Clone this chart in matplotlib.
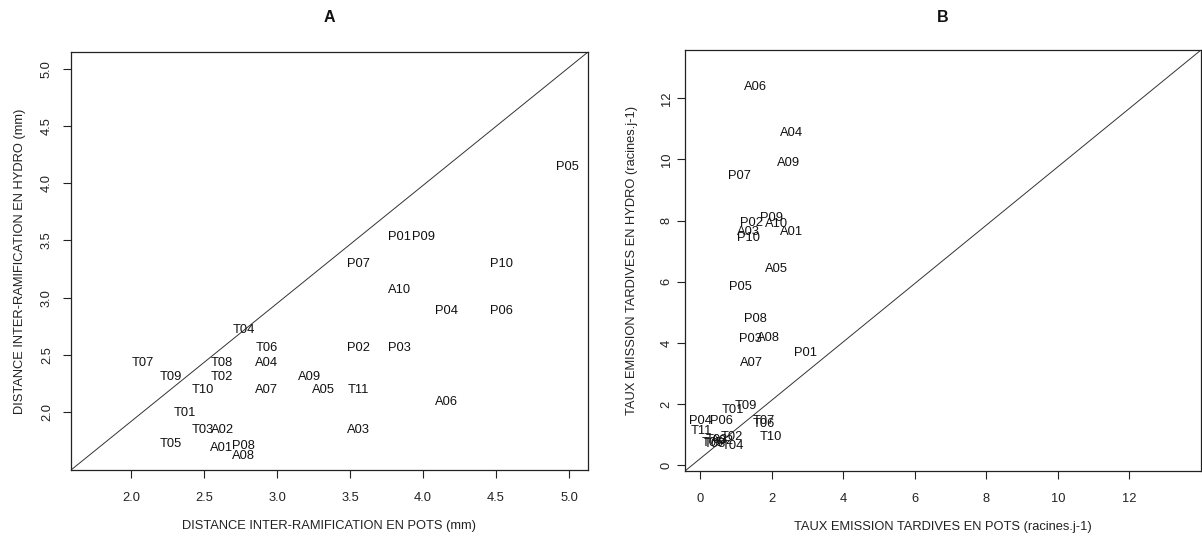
"""Scatter of genotype labels: hydro vs pots (two panels, R-style)."""

import matplotlib

matplotlib.use("Agg")

import matplotlib.pyplot as plt
import numpy as np

# Panel A: inter-branch distance (mm)
labels_a = ["T01", "T02", "T03", "T04", "T05", "T06", "T07", "T08", "T09", "T10", "T11",
            "A01", "A02", "A03", "A04", "A05", "A06", "A07", "A08", "A09", "A10",
            "P01", "P02", "P03", "P04", "P05", "P06", "P07", "P08", "P09", "P10"]
pots_a = [2.37, 2.62, 2.49, 2.77, 2.27, 2.93, 2.08, 2.62, 2.27, 2.49, 3.56,
          2.62, 2.63, 3.56, 2.93, 3.32, 4.16, 2.93, 2.77, 3.22, 3.84,
          3.84, 3.56, 3.84, 4.16, 4.99, 4.54, 3.56, 2.77, 4.00, 4.54]
hydro_a = [1.99, 2.31, 1.84, 2.72, 1.72, 2.56, 2.43, 2.43, 2.31, 2.19, 2.19,
           1.69, 1.84, 1.84, 2.43, 2.19, 2.09, 2.19, 1.62, 2.31, 3.07,
           3.53, 2.56, 2.56, 2.88, 4.14, 2.88, 3.29, 1.70, 3.53, 3.29]

# Panel B: late emission rate (roots per day)
labels_b = ["T01", "T02", "T03", "T04", "T05", "T06", "T07", "T08", "T09", "T10", "T11",
            "A01", "A02", "A03", "A04", "A05", "A06", "A07", "A08", "A09", "A10",
            "P01", "P02", "P03", "P04", "P05", "P06", "P07", "P08", "P09", "P10"]
pots_b = [0.93, 0.88, 0.47, 0.93, 0.37, 1.79, 1.77, 0.40, 1.28, 1.97, 0.05,
          2.56, 0.62, 1.35, 2.56, 2.14, 1.56, 1.44, 1.91, 2.47, 2.14,
          2.96, 1.44, 1.42, 0.00, 1.12, 0.61, 1.09, 1.56, 2.00, 1.35]
hydro_b = [1.81, 0.92, 0.83, 0.64, 0.72, 1.34, 1.45, 0.68, 1.92, 0.92, 1.13,
           7.62, 0.80, 7.62, 10.86, 6.42, 12.38, 3.34, 4.17, 9.90, 7.89,
           3.68, 7.93, 4.13, 1.46, 5.82, 1.43, 9.46, 4.77, 8.08, 7.44]

FONT = ["Liberation Sans", "DejaVu Sans"]
FS = 9.3


def r_panel(ax, x, y, labels, xlim, ylim, ticks, xlabel, ylabel, ypad, ylabpad):
    for xi, yi, lab in zip(x, y, labels):
        ax.text(xi, yi, lab, ha="center", va="center", fontsize=FS, color="#111111")
    ax.plot([0, 1], [0, 1], transform=ax.transAxes, color="#333333", linewidth=0.7)
    ax.set_xlim(*xlim)
    ax.set_ylim(*ylim)
    ax.set_xticks(ticks[0])
    ax.set_yticks(ticks[1])
    ax.set_xticklabels(ticks[2])
    ax.set_yticklabels(ticks[3], rotation=90, va="center")
    ax.tick_params(direction="out", length=5.5, width=0.8, labelsize=FS, colors="#222222")
    ax.tick_params(axis="x", pad=10)
    ax.tick_params(axis="y", pad=ypad)
    for sp in ax.spines.values():
        sp.set_linewidth(0.9)
        sp.set_color("#222222")
    ax.set_xlabel(xlabel, fontsize=FS, labelpad=12, color="#222222")
    ax.set_ylabel(ylabel, fontsize=FS, labelpad=ylabpad, color="#222222")


def main():
    plt.rcParams["font.family"] = FONT
    fig = plt.figure(figsize=(12.02, 5.38), dpi=100)
    ax_a = fig.add_axes([71 / 1202, 68 / 538, 517 / 1202, 418 / 538])
    ax_b = fig.add_axes([685 / 1202, 67 / 538, 516 / 1202, 421 / 538])

    ta = np.arange(2.0, 5.01, 0.5)
    r_panel(ax_a, pots_a, hydro_a, labels_a, (1.589, 5.13), (1.494, 5.145),
            (ta, ta, [f"{v:.1f}" for v in ta], [f"{v:.1f}" for v in ta]),
            "DISTANCE INTER-RAMIFICATION EN POTS (mm)",
            "DISTANCE INTER-RAMIFICATION EN HYDRO (mm)", 7.5, 11)

    tb = np.arange(0, 13, 2)
    r_panel(ax_b, pots_b, hydro_b, labels_b, (-0.42, 14.0), (-0.19, 13.58),
            (tb, tb, [str(v) for v in tb], [str(v) for v in tb]),
            "TAUX EMISSION TARDIVES EN POTS (racines.j-1)",
            "TAUX EMISSION TARDIVES EN HYDRO (racines.j-1)", 3.5, 16)

    for ax, title in ((ax_a, "A"), (ax_b, "B")):
        box = ax.get_position()
        fig.text((box.x0 + box.x1) / 2, 1 - 17 / 538, title, ha="center", va="center",
                 fontsize=11.5, fontweight="bold", color="#111111")

    fig.savefig("out.png", dpi=100, facecolor="white")
    plt.close(fig)


if __name__ == "__main__":
    main()
